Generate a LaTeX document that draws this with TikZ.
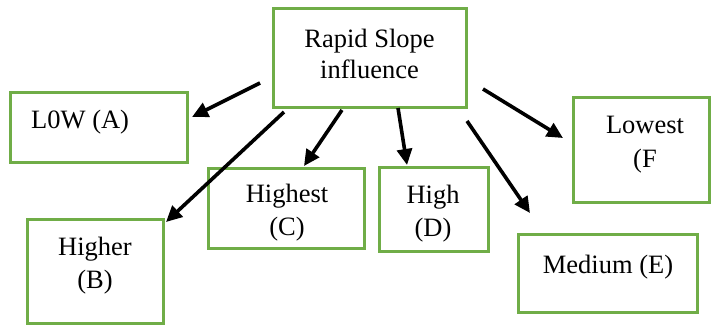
\documentclass[tikz,border=0pt]{standalone}
\usepackage{fontspec}
\setmainfont{Liberation Serif}
\usetikzlibrary{arrows.meta}
\definecolor{boxgreen}{RGB}{112,173,71}
\begin{document}
\begin{tikzpicture}[x=1pt,y=-1pt,
  box/.style={draw=boxgreen,line width=3pt,fill=white,inner sep=0pt},
  lbl/.style={anchor=base,inner sep=0pt,font=\fontsize{26.5}{31}\selectfont},
  arr/.style={line width=3.6pt,-{Triangle[length=16pt,width=15pt]}}]
\useasboundingbox (0,0) rectangle (711,324);
% boxes
\node[box,minimum width=193pt,minimum height=99pt] (top) at (369.5,57.5) {};
\node[box,minimum width=177pt,minimum height=70pt] (bA) at (98.5,127) {};
\node[box,minimum width=136pt,minimum height=104pt] (bB) at (95,271) {};
\node[box,minimum width=156pt,minimum height=80pt] (bC) at (286,208) {};
\node[box,minimum width=109pt,minimum height=84pt] (bD) at (433.5,209) {};
\node[box,minimum width=179pt,minimum height=78pt] (bE) at (607.5,273) {};
\node[box,minimum width=136pt,minimum height=105pt] (bF) at (641,149.5) {};
% texts
\node[lbl] (t1) at (369.5,47) {Rapid Slope};
\node[lbl] (t2) at (369.5,78) {influence};
\node[lbl,anchor=base west] (tA) at (31,128) {L0W (A)};
\node[lbl] (tB1) at (95,255) {Higher};
\node[lbl] (tB2) at (95,288) {(B)};
\node[lbl] (tC1) at (287,202) {Highest};
\node[lbl] (tC2) at (287,235) {(C)};
\node[lbl] (tD1) at (433,203) {High};
\node[lbl] (tD2) at (433,236) {(D)};
\node[lbl] (tE) at (608,273) {Medium (E)};
\node[lbl] (tF1) at (645,133) {Lowest};
\node[lbl] (tF2) at (645,167) {(F};
% arrow end points
\coordinate (sA) at (260,83);  \coordinate (eA) at (192,117);
\coordinate (sB) at (284,112); \coordinate (eB) at (166,222);
\coordinate (sC) at (342,110); \coordinate (eC) at (304,166);
\coordinate (sD) at (398,108); \coordinate (eD) at (407,165);
\coordinate (sE) at (467,121); \coordinate (eE) at (530,213);
\coordinate (sF) at (483,89);  \coordinate (eF) at (563,138);
\draw[arr] (sA) -- (eA);
\draw[arr] (sB) -- (eB);
\draw[arr] (sC) -- (eC);
\draw[arr] (sD) -- (eD);
\draw[arr] (sE) -- (eE);
\draw[arr] (sF) -- (eF);
\end{tikzpicture}
\end{document}
